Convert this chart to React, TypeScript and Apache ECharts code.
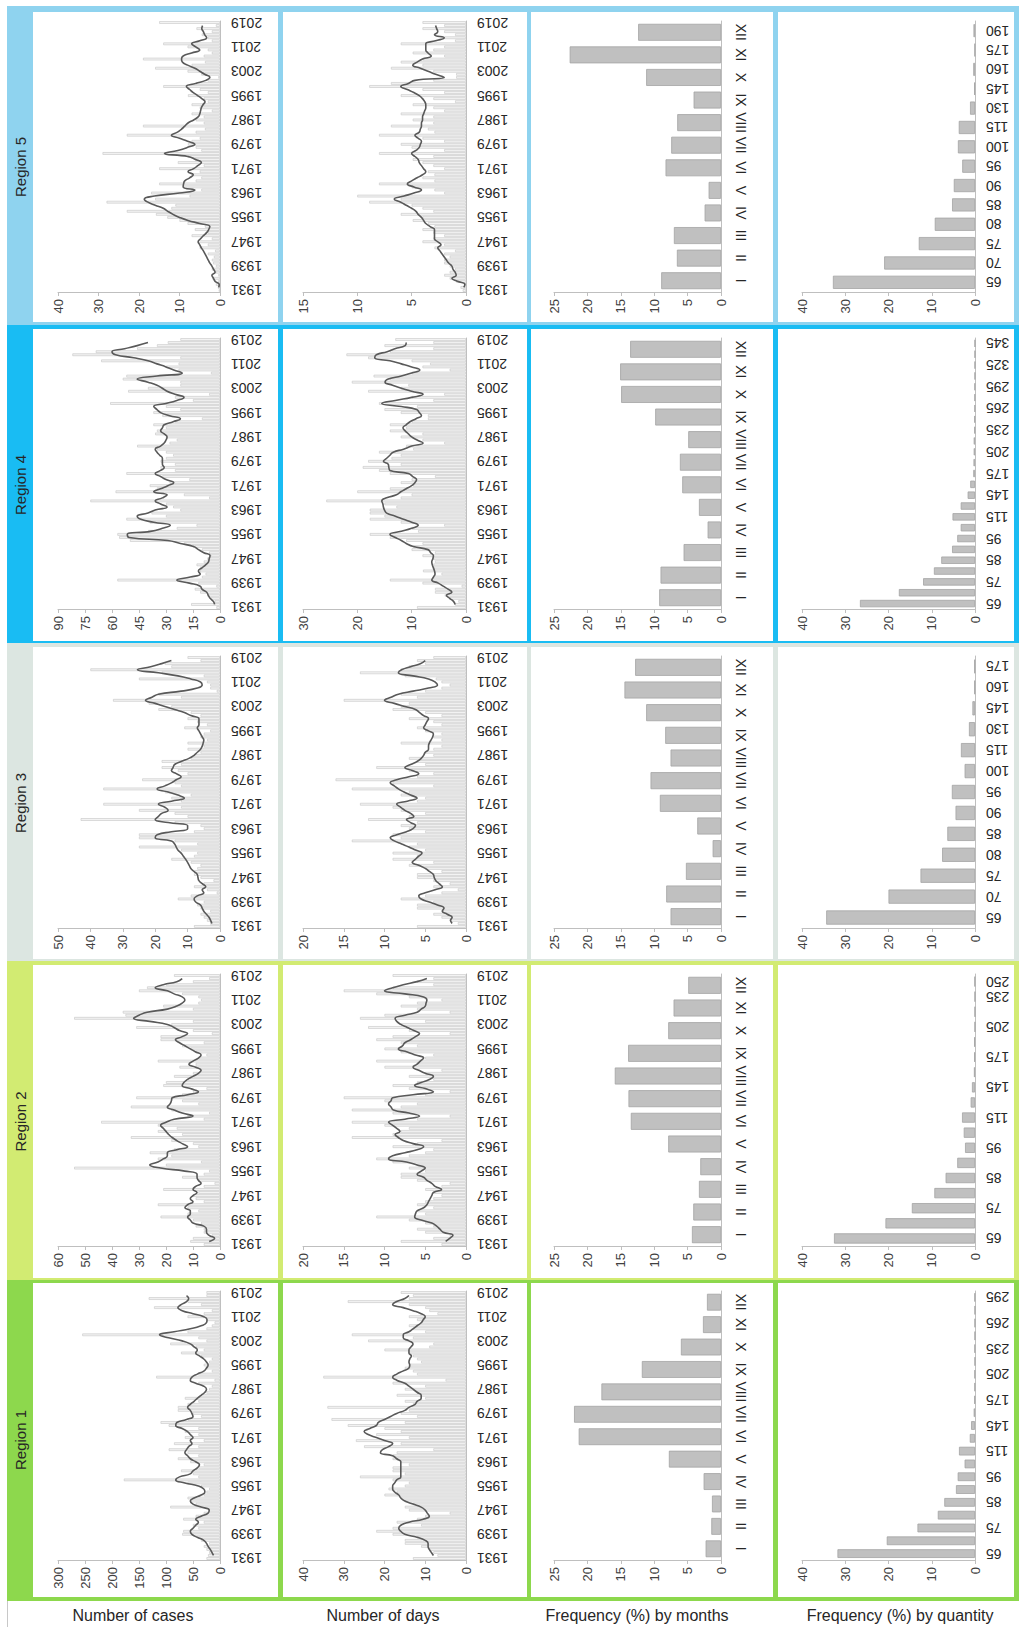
import React, { useEffect, useRef } from "react";
import * as echarts from "echarts";

const FONT = '"Liberation Sans", Arial, sans-serif';

// ---------- categories ----------
const years: string[] = [];
for (let y = 1931; y <= 2019; y++) years.push(String(y));
const months = ["I", "II", "III", "IV", "V", "VI", "VII", "VIII", "IX", "X", "XI", "XII"];

// ---------- Region 1 ----------
const casesR1 = [
  25, 22, 20, 25, 30, 20, 35, 40, 70, 68,
  40, 50, 30, 68, 45, 30, 20, 92, 45, 55,
  60, 30, 25, 20, 35, 60, 178, 40, 50, 72,
  40, 30, 55, 78, 40, 60, 95, 40, 85, 30,
  65, 40, 65, 40, 95, 110, 60, 35, 50, 78,
  78, 60, 40, 65, 35, 25, 20, 15, 40, 10,
  118, 40, 15, 25, 30, 20, 15, 35, 72, 30,
  45, 92, 25, 40, 255, 60, 25, 15, 10, 25,
  60, 30, 15, 122, 35, 60, 132, 25, 25,
];
const casesTrendR1 = [
  null,
  12, 15, 18, 22, 25, 30, 42, 52, 55,
  50, 45, 40, 45, 35, 22, 20, 35, 50, 55,
  48, 35, 28, 30, 40, 65, 82, 75, 55, 50,
  42, 38, 45, 55, 60, 65, 62, 58, 52, 55,
  50, 55, 60, 70, 82, 80, 62, 50, 52, 55,
  60, 55, 48, 42, 35, 28, 25, 30, 45, 55,
  52, 42, 30, 25, 22, 25, 30, 38, 45, 42,
  48, 55, 70, 95, 112, 85, 55, 35, 25, 24,
  30, 50, 70, 78, 72, 62, 58, 62,
  null,
];
const daysR1 = [
  13, 7, 8, 9, 11, 15, 15, 12, 18, 22,
  18, 11, 17, 12, 10, 4, 14, 15, 13, 15,
  16, 20, 17, 19, 15, 14, 18, 26, 15, 18,
  18, 14, 16, 18, 18, 17, 8, 25, 16, 27,
  14, 22, 16, 20, 29, 15, 33, 12, 16, 14,
  34, 13, 15, 10, 17, 12, 15, 10, 18, 5,
  35, 12, 13, 15, 14, 11, 12, 13, 14, 20,
  9, 8, 24, 13, 28, 10, 13, 14, 11, 12,
  14, 7, 9, 10, 14, 29, 14, 13, 16,
];
const daysTrendR1 = [
  null,
  8, 8.5, 9, 9.3, 9.3, 10, 12, 15, 16,
  16.5, 16, 14, 10.5, 9, 9.5, 10, 11, 13, 15,
  16, 16.5, 17.5, 18, 18, 17.5, 17, 16, 16, 16,
  16, 16, 16, 17, 18, 21, 20.5, 19, 18, 20,
  22, 24, 25, 23.6, 22, 21.5, 20, 18.5, 17, 15,
  14, 12.5, 12, 11, 11, 12, 13, 14, 15, 17,
  18, 17, 15.5, 14, 13.8, 14, 13.8, 13.4, 14, 14,
  13.5, 13, 14, 15.4, 15.4, 14, 13, 12, 11, 10.5,
  10, 11, 13, 15.4, 18, 17, 15, 14,
  null,
];
const monthsR1 = [2.3, 1.45, 1.35, 2.6, 7.8, 21.3, 22.0, 17.9, 11.85, 6.0, 2.7, 2.1];
const qtyBinsR1 = ["65", "70", "75", "80", "85", "90", "95", "100", "115", "130", "145", "160", "175", "190", "205", "220", "235", "250", "265", "280", "295"];
const qtyR1 = [31.8, 20.4, 13.3, 8.6, 7.1, 4.4, 4.0, 2.4, 3.7, 1.2, 0.9, 0.3, 0.15, 0.1, 0.1, 0.05, 0.1, 0.05, 0.05, 0.05, 0.1];

// ---------- Region 2 ----------
const casesR2 = [
  6, 11, 10, 3, 6, 6, 9, 7, 10, 22,
  12, 8, 12, 23, 6, 9, 10, 8, 21, 6,
  2, 8, 14, 6, 4, 54, 20, 7, 23, 18,
  26, 17, 8, 10, 18, 33, 14, 23, 16, 23,
  44, 6, 12, 4, 18, 33, 8, 14, 31, 14,
  10, 5, 21, 20, 12, 17, 10, 7, 15, 9,
  23, 8, 5, 9, 11, 14, 6, 22, 22, 3,
  10, 31, 18, 10, 54, 35, 36, 10, 21, 8,
  7, 8, 14, 30, 27, 20, 10, 4, 17,
];
const casesTrendR2 = [
  null,
  4, 2, 4, 5, 5, 6, 10, 11, 12,
  11, 11, 13, 12, 10, 11, 10, 8.5, 10, 9,
  7, 8, 8.5, 8.5, 13, 22, 26, 23, 21, 19.5,
  19.5, 16, 12, 14, 16, 17.7, 19, 20, 21, 22,
  20, 17, 10, 14, 17, 19.5, 18.5, 18, 17.7, 12,
  8, 11, 14, 13.4, 12, 10, 8, 7, 9, 11.5,
  10, 8, 7, 9, 11, 13, 15, 16.5, 14, 12,
  15, 17, 19.5, 26, 32, 30, 27, 19.5, 16, 14,
  13, 14, 17, 19.5, 24, 21, 16, 14,
  null,
];
const daysR2 = [
  3, 8, 4, 2, 5, 6, 4, 5, 7, 11,
  5, 6, 4, 6, 5, 4, 3, 4, 5, 3,
  2, 6, 8, 8, 5, 7, 6, 9, 11, 7,
  5, 4, 9, 6, 3, 14, 9, 8, 7, 10,
  14, 6, 2, 9, 14, 8, 6, 10, 15, 5,
  2, 7, 9, 6, 4, 7, 5, 3, 10, 6,
  11, 5, 4, 8, 10, 6, 8, 11, 9, 2,
  7, 12, 8, 5, 13, 10, 2, 6, 8, 6,
  3, 7, 11, 15, 9, 4, 6, 4, 9,
];
const daysTrendR2 = [
  null,
  2.5, 2, 1.6, 2.8, 3.2, 3.6, 4.2, 5.5, 6.3,
  6.2, 6, 5.2, 4.8, 4.6, 4.4, 4.2, 4, 3, 3.8,
  4.2, 4.8, 5.2, 6, 5.5, 5, 6, 7.3, 9.5, 9,
  7.5, 6, 5.2, 6.5, 7.7, 8.3, 8.7, 8.1, 8.5, 9,
  9.5, 7.5, 5.7, 7, 8.9, 9.2, 9.5, 9.2, 9, 6.5,
  4, 5, 6.3, 5.5, 4.5, 4, 5, 5.8, 6.5, 6,
  5.6, 5.2, 6.2, 7.2, 8.3, 7.8, 7.5, 6.8, 6.2, 5.7,
  6.4, 7.2, 8, 8.5, 8.7, 7.5, 6, 5.5, 5, 4.9,
  4.8, 5.2, 7.5, 10, 9, 7.7, 6, 4.8,
  null,
];
const monthsR2 = [4.35, 4.15, 3.3, 3.1, 7.9, 13.5, 13.85, 15.9, 13.9, 7.9, 7.1, 4.9];
const qtyBinsR2 = ["65", "70", "75", "80", "85", "90", "95", "100", "115", "130", "145", "160", "175", "190", "205", "220", "235", "250"];
const qtyR2 = [32.6, 20.7, 14.6, 9.4, 6.8, 4.1, 2.3, 2.6, 3.0, 1.0, 0.7, 0.25, 0.2, 0.2, 0.05, 0.05, 0.05, 0.1];

// ---------- Region 3 ----------
const casesR3 = [
  8, 3, 4, 5, 6, 3, 6, 7, 5, 13,
  9, 1, 4, 8, 5, 2, 6, 8, 8, 7,
  6, 9, 15, 8, 7, 12, 25, 7, 14, 25,
  25, 8, 5, 6, 14, 43, 10, 14, 25, 12,
  36, 12, 15, 9, 17, 36, 12, 14, 24, 12,
  10, 13, 18, 12, 18, 9, 8, 6, 10, 5,
  10, 4, 6, 5, 3, 11, 4, 7, 10, 6,
  9, 19, 15, 22, 33, 12, 19, 1, 3, 3,
  4, 25, 5, 18, 40, 15, 17, 6, 10,
];
const casesTrendR3 = [
  null,
  2.5, 2.9, 3.4, 4.2, 5, 5.5, 6, 7.5, 8,
  7, 5, 5.5, 4.4, 5.5, 6.5, 6.8, 7, 8, 9,
  9.5, 10, 10.6, 11.3, 12, 13, 13.5, 14, 15, 20,
  19.4, 15, 10, 10, 16, 20, 19, 18, 16, 17,
  19, 15, 11, 13, 16, 19.4, 17, 15, 13.5, 12,
  13.5, 15, 14.5, 14, 12, 9.6, 8, 7, 6, 5.5,
  5.2, 5, 5.5, 6, 6.5, 7, 6.5, 6.5, 6.5, 9,
  11, 14, 17, 20, 23, 21, 19, 12, 7, 5.5,
  6, 9, 13, 19, 25.5, 21.4, 18, 15,
  null,
];
const daysR3 = [
  6, 1, 2, 3, 4, 3, 6, 6, 4, 8,
  5, 3, 1, 4, 2, 4, 6, 6, 3, 5,
  7, 4, 9, 6, 9, 5, 7, 6, 14, 8,
  9, 5, 7, 8, 6, 12, 7, 5, 8, 9,
  13, 6, 5, 8, 7, 14, 4, 9, 16, 6,
  4, 7, 11, 5, 6, 7, 4, 5, 4, 3,
  8, 3, 4, 3, 5, 6, 3, 4, 7, 3,
  5, 9, 8, 7, 15, 6, 8, 5, 3, 2,
  3, 3.7, 7.5, 13, 8, 7, 5, 6, 4,
];
const daysTrendR3 = [
  null,
  1.7, 1.9, 1.7, 2.3, 2.9, 2.7, 3.5, 4.5, 5.5,
  5.8, 5, 3.8, 2.9, 3.3, 3.7, 3.9, 4, 4.5, 5,
  5.8, 6.6, 6.2, 5.8, 5.4, 6.2, 7, 7.9, 8.8, 9.3,
  8.5, 7.3, 6.5, 6.2, 6.8, 7.3, 6.4, 6.8, 7.5, 8,
  8.5, 7.2, 6, 6.8, 7.6, 8.3, 8.8, 9.3, 8.5, 7,
  5.8, 6.6, 7.5, 6.8, 6, 5.5, 5.2, 5, 4.6, 4.6,
  4.5, 4.3, 4.1, 4, 4.6, 5.2, 5, 4.8, 4.6, 5.2,
  5.7, 6.2, 7.5, 8.8, 10, 9.2, 8.3, 6.5, 4.6, 3.5,
  3.8, 4.6, 6.5, 8.3, 7.9, 6.8, 5.6, 5,
  null,
];
const monthsR3 = [7.55, 8.2, 5.25, 1.25, 3.55, 9.15, 10.55, 7.55, 8.35, 11.2, 14.45, 12.85];
const qtyBinsR3 = ["65", "70", "75", "80", "85", "90", "95", "100", "115", "130", "145", "160", "175"];
const qtyR3 = [34.4, 20.0, 12.6, 7.6, 6.4, 4.5, 5.35, 2.4, 3.25, 1.4, 0.6, 0.15, 0.15];

// ---------- Region 4 ----------
const casesR4 = [
  2, 16, 3, 5, 7, 11, 14, 2, 12, 57,
  10, 8, 11, 11, 13, 9, 7, 5, 6, 10,
  15, 20, 50, 56, 57, 40, 24, 13, 39, 52,
  30, 38, 22, 26, 30, 72, 6, 20, 58, 35,
  39, 28, 17, 32, 52, 25, 33, 25, 33, 30,
  26, 30, 35, 46, 28, 24, 30, 36, 35, 30,
  37, 25, 10, 32, 37, 22, 30, 61, 15, 25,
  6, 51, 40, 22, 22, 54, 52, 5, 23, 30,
  23, 66, 22, 82, 69, 46, 35, 29, 22,
];
const casesTrendR4 = [
  null,
  3, 3.7, 5.5, 6.5, 7.4, 10, 11, 17, 24,
  16.5, 11, 12, 10, 8, 6.4, 6, 5.5, 9, 12,
  14.7, 22, 29, 50.5, 51.5, 38.6, 32, 27.6, 36.8, 44,
  46, 40, 36, 29.4, 33, 36, 32, 29.4, 36.8, 33,
  29, 25.7, 30, 33, 36, 33, 31, 32, 32, 32,
  33.5, 35, 36, 33, 31, 30, 29.4, 31, 33, 32,
  31, 26, 22, 28, 33, 35, 36.8, 30, 24, 20,
  25, 29.4, 32, 35, 40, 46, 35, 21, 25.7, 30,
  35, 40, 48, 58, 60, 53, 46, 40,
  null,
];
const daysR4 = [
  9, 2, 1.4, 3, 3.9, 5.7, 5.7, 0.8, 8, 14,
  6, 4.5, 7.9, 6, 6, 5.7, 6, 8, 5.7, 10,
  9.7, 8, 11, 14, 17.7, 8.8, 10, 4, 12, 17.7,
  15, 17.7, 17.7, 12.8, 15, 25.7, 12, 10, 20, 14,
  9.7, 12, 10, 5.7, 14, 16, 19, 12, 18, 13.7,
  12, 16, 9.7, 11, 4, 8, 12, 8, 14, 11,
  14, 10, 7, 7, 12, 15, 9, 16, 6, 10,
  4, 18, 12, 10.6, 21, 14, 17, 10, 3, 8,
  6.6, 10, 18, 22, 14, 6, 15, 6, 13,
];
const daysTrendR4 = [
  null,
  2, 2.3, 3, 3.6, 2.6, 3.3, 4.2, 5.1, 6.3,
  6, 5.7, 5.8, 6, 6.2, 6.3, 6.1, 6, 6.5, 7,
  9.7, 11, 11.9, 13, 14, 11.9, 10, 8.8, 10, 11.5,
  13, 14.6, 15, 15.2, 15.3, 15.5, 14.6, 12.8, 12, 11,
  10, 9.4, 9.1, 9.8, 10.6, 14, 14.2, 14.3, 15.2, 14.6,
  14, 13.4, 11.5, 10, 7.9, 9, 10, 10.6, 11.2, 11.6,
  11, 10.3, 9.2, 8.2, 8.6, 9.1, 11.9, 15.5, 13, 10,
  7.9, 10, 11.9, 13.5, 14.9, 14.3, 11.9, 10, 8.5, 10,
  11.9, 14, 16.8, 16.5, 14.5, 13.1, 11.2, 11,
  null,
];
const monthsR4 = [9.25, 9.05, 5.6, 2.0, 3.3, 5.8, 6.15, 4.9, 9.85, 14.95, 15.1, 13.6];
const qtyBinsR4 = ["65", "70", "75", "80", "85", "90", "95", "100", "115", "130", "145", "160", "175", "190", "205", "220", "235", "250", "265", "280", "295", "310", "325", "335", "345"];
const qtyR4 = [26.6, 17.6, 12.0, 9.5, 7.8, 5.3, 4.1, 3.3, 5.2, 3.3, 1.7, 1.1, 0.4, 0.35, 0.3, 0.3, 0.15, 0.15, 0.1, 0.1, 0.1, 0.05, 0.05, 0.05, 0.05];

// ---------- Region 5 ----------
const casesR5 = [
  0.3, 0.5, 1, 0.4, 1.9, 0.4, 1, 2, 1, 1.7,
  2, 1.5, 3, 1.2, 5, 3, 5.4, 2, 7, 3,
  6.2, 3.7, 8, 10, 13, 15.8, 23, 12, 11, 28,
  16, 7.5, 17, 4.6, 9, 15, 6, 4.6, 7, 5,
  15, 4, 10.4, 6.2, 8, 29, 4.6, 6, 7.9, 7,
  5, 23, 6, 3.7, 19, 4, 6, 4, 7, 2,
  5, 7, 3, 4, 7.9, 3, 5, 14, 6, 3,
  0.4, 4.6, 8, 16, 7, 3.7, 19, 4, 2, 3,
  8, 14, 2, 3, 4.5, 2, 5.8, 1, 15,
];
const casesTrendR5 = [
  null,
  0.3, 0.2, 1.2, 1.6, 2, 1.2, 1.6, 2, 2.5,
  2.9, 3.3, 3.7, 4.1, 4.6, 5, 5.4, 4.8, 4.1, 3.3,
  2.8, 2.5, 5, 7.9, 10, 11.6, 12.9, 14, 16, 17.8,
  18.7, 16.2, 10, 6.2, 9.1, 9, 8.7, 7.5, 6.6, 7.9,
  6.5, 5.5, 4.6, 6, 7.9, 13.7, 10.4, 8, 6.2, 8,
  10, 12, 10.5, 9.5, 8.7, 7.9, 6.5, 5.4, 5, 4.8,
  4.6, 4.2, 3.7, 4.5, 5.5, 6.6, 7.5, 8.3, 6, 3.5,
  2.5, 3.8, 5, 6.2, 8, 9.3, 9.5, 9.1, 7, 5,
  6, 7, 5, 3.3, 3.8, 4.1, 4.5, 4.3,
  null,
];
const daysR5 = [
  0.3, 0.5, 0.1, 0.9, 1.5, 2, 1.5, 1, 1.5, 2,
  2, 1.5, 2, 1, 2.9, 2, 4, 3, 2, 3,
  4, 2.9, 3.5, 4.9, 4, 6, 3, 4, 5, 8.9,
  6, 10, 2, 2.9, 5, 8, 2.9, 4, 2.9, 3.5,
  2, 3, 4, 4.9, 3, 8, 2, 5, 6, 2,
  4, 8, 2.9, 3.5, 6.9, 3, 4.9, 3, 6, 2,
  3, 4.9, 1, 3, 6, 2, 4, 8.9, 6.9, 3,
  0.9, 0.9, 3, 6.9, 4, 6, 4, 2, 4.9, 3,
  2, 6, 1, 2, 1, 2, 4, 2, 4,
];
const daysTrendR5 = [
  null,
  0.2, 0.1, 0.8, 1.3, 0.9, 1, 1.2, 1.3, 1.6,
  1.8, 2, 2.2, 2.4, 2.6, 2.3, 2.6, 2.9, 2.9, 2.9,
  2.9, 3.3, 3.7, 3.9, 4.1, 4.4, 4.6, 5, 5.5, 6,
  6.6, 5.7, 4.8, 4.1, 4.8, 5.4, 5, 4.5, 4, 3.7,
  3.9, 4.1, 4.3, 4.4, 4.7, 5, 4.6, 4.3, 4.2, 4.1,
  4.4, 4.7, 4.3, 4.2, 4.1, 4.1, 4, 4, 3.9, 3.8,
  3.7, 3.7, 3.8, 4, 4.3, 4.8, 5.4, 6, 5.3, 4.7,
  2, 2.8, 3.5, 4.2, 4.9, 4.5, 4, 3.2, 3.5, 3.7,
  3.7, 3.7, 2.8, 2, 2.9, 2.6, 2.7, 2.8,
  null,
];
const monthsR5 = [8.95, 6.6, 7.05, 2.45, 1.85, 8.3, 7.45, 6.55, 4.1, 11.2, 22.65, 12.4];
const qtyBinsR5 = ["65", "70", "75", "80", "85", "90", "95", "100", "115", "130", "145", "160", "175", "190"];
const qtyR5 = [32.85, 21.0, 13.0, 9.3, 5.3, 4.9, 2.95, 3.95, 3.75, 1.15, 0.2, 0.4, 0.1, 0.35];

// ---------- texts ----------
const regionNames = ["Region 1", "Region 2", "Region 3", "Region 4", "Region 5"];
const columnTitles = ["Number of cases", "Number of days", "Frequency (%) by months", "Frequency (%) by quantity"];

// value-axis ranges: [max, interval]
const casesScale = [[300, 50], [60, 10], [50, 10], [90, 15], [40, 10]];
const daysScale = [[40, 10], [20, 5], [20, 5], [30, 10], [15, 5]];

// ---------- layout (pixels) ----------
const REGION_COLORS = ["#8dd84d", "#d2eb72", "#dce6e1", "#19bcf3", "#8fd3ef"];
const BANDS = [
  { frameTop: 1280, frameBottom: 1601, panelTop: 1283, panelBottom: 1597, plotTop: 1291, axisY: 1560 },
  { frameTop: 961, frameBottom: 1280, panelTop: 965, panelBottom: 1278, plotTop: 974, axisY: 1246 },
  { frameTop: 643, frameBottom: 961, panelTop: 647, panelBottom: 959, plotTop: 656, axisY: 928 },
  { frameTop: 325, frameBottom: 643, panelTop: 329, panelBottom: 641, plotTop: 338, axisY: 609 },
  { frameTop: 6, frameBottom: 325, panelTop: 12, panelBottom: 322, plotTop: 21, axisY: 292 },
];
const PANELS = [[33, 278], [283, 527], [531, 773], [778, 1014]];
const PLOTS = [[58, 220], [303, 466], [554, 721], [802, 975]];
const TITLE_X = [133, 383, 637, 900];

function buildOption() {
  const regions = [
    { cases: casesR1, casesTrend: casesTrendR1, days: daysR1, daysTrend: daysTrendR1, months: monthsR1, bins: qtyBinsR1, qty: qtyR1, qtyInterval: 1 as any },
    { cases: casesR2, casesTrend: casesTrendR2, days: daysR2, daysTrend: daysTrendR2, months: monthsR2, bins: qtyBinsR2, qty: qtyR2, qtyInterval: ((i: number) => i % 2 === 0 || i === qtyBinsR2.length - 1) as any },
    { cases: casesR3, casesTrend: casesTrendR3, days: daysR3, daysTrend: daysTrendR3, months: monthsR3, bins: qtyBinsR3, qty: qtyR3, qtyInterval: 0 as any },
    { cases: casesR4, casesTrend: casesTrendR4, days: daysR4, daysTrend: daysTrendR4, months: monthsR4, bins: qtyBinsR4, qty: qtyR4, qtyInterval: 1 as any },
    { cases: casesR5, casesTrend: casesTrendR5, days: daysR5, daysTrend: daysTrendR5, months: monthsR5, bins: qtyBinsR5, qty: qtyR5, qtyInterval: 0 as any },
  ];

  const grid: any[] = [];
  const xAxis: any[] = [];
  const yAxis: any[] = [];
  const series: any[] = [];
  const graphic: any[] = [];

  regions.forEach((r, ri) => {
    const b = BANDS[ri];
    graphic.push({
      type: "rect", z: -10, silent: true,
      shape: { x: 7, y: b.frameTop, width: 1012, height: b.frameBottom - b.frameTop },
      style: { fill: REGION_COLORS[ri] },
    });
    PANELS.forEach(([x0, x1]) => {
      graphic.push({
        type: "rect", z: -9, silent: true,
        shape: { x: x0, y: b.panelTop, width: x1 - x0, height: b.panelBottom - b.panelTop },
        style: { fill: "#ffffff" },
      });
    });
    graphic.push({
      type: "text", z: 5, silent: true,
      x: 20, y: (b.panelTop + b.panelBottom) / 2, rotation: Math.PI / 2,
      style: {
        text: regionNames[ri], fill: "#262626", font: `15px ${FONT}`,
        textAlign: "center", textVerticalAlign: "middle", align: "center", verticalAlign: "middle",
      },
    });

    const defs = [
      { cats: years, max: casesScale[ri][0], step: casesScale[ri][1], bars: r.cases, trend: r.casesTrend, kind: "year", interval: 7 },
      { cats: years, max: daysScale[ri][0], step: daysScale[ri][1], bars: r.days, trend: r.daysTrend, kind: "year", interval: 7 },
      { cats: months, max: 25, step: 5, bars: r.months, trend: null, kind: "month", interval: 0 },
      { cats: r.bins, max: 40, step: 10, bars: r.qty, trend: null, kind: "qty", interval: r.qtyInterval },
    ];

    defs.forEach((d: any, ci) => {
      const idx = grid.length;
      const [x0, x1] = PLOTS[ci];
      grid.push({ left: x0, top: b.plotTop, width: x1 - x0, height: b.axisY - b.plotTop });
      xAxis.push({
        gridIndex: idx, type: "value", inverse: true, min: 0, max: d.max, interval: d.step, position: "bottom",
        axisLine: { show: true, lineStyle: { color: "#bfbfbf", width: 1 } },
        axisTick: { show: true, length: 4, lineStyle: { color: "#bfbfbf" } },
        splitLine: { show: false },
        axisLabel: { rotate: 90, fontSize: 13, color: "#404040", margin: 7, fontFamily: FONT },
      });
      yAxis.push({
        gridIndex: idx, type: "category", data: d.cats, position: "right",
        axisLine: { show: true, onZero: false, lineStyle: { color: "#bfbfbf", width: 1 } },
        axisTick: { show: false },
        splitLine: { show: false },
        axisLabel: {
          interval: d.interval, rotate: d.kind === "month" ? -90 : 180,
          fontSize: 14, color: "#262626", margin: d.kind === "month" ? 13 : 11, fontFamily: FONT,
        },
      });
      if (d.kind === "year") {
        series.push({
          type: "bar", xAxisIndex: idx, yAxisIndex: idx, data: d.bars, silent: true,
          barCategoryGap: "15%",
          itemStyle: { color: "#f3f3f3", borderColor: "#c4c4c4", borderWidth: 0.6 },
        });
        series.push({
          type: "line", xAxisIndex: idx, yAxisIndex: idx, data: d.trend, silent: true,
          smooth: true, symbol: "none", showSymbol: false, z: 4,
          lineStyle: { color: "#595959", width: 1.6 },
        });
      } else {
        series.push({
          type: "bar", xAxisIndex: idx, yAxisIndex: idx, data: d.bars, silent: true,
          barCategoryGap: d.kind === "month" ? "25%" : "32%",
          itemStyle: { color: "#c0c0c0", borderColor: "#a3a3a3", borderWidth: 0.8 },
        });
      }
    });
  });

  columnTitles.forEach((t, i) => {
    graphic.push({
      type: "text", z: 5, silent: true, x: TITLE_X[i], y: 1615,
      style: {
        text: t, fill: "#262626", font: `16px ${FONT}`,
        textAlign: "center", textVerticalAlign: "middle", align: "center", verticalAlign: "middle",
      },
    });
  });
  graphic.push({
    type: "line", silent: true, z: 5,
    shape: { x1: 7.5, y1: 1601, x2: 7.5, y2: 1627 },
    style: { stroke: "#c8c8c8", lineWidth: 1 },
  });

  return { animation: false, backgroundColor: "#ffffff", grid, xAxis, yAxis, series, graphic };
}

export default function App() {
  const ref = useRef<HTMLDivElement>(null);
  useEffect(() => {
    if (!ref.current) return;
    const chart = echarts.init(ref.current, null, { renderer: "svg" });
    chart.setOption(buildOption() as any);
    return () => chart.dispose();
  }, []);
  return (
    <div
      ref={ref}
      style={{ position: "absolute", left: 0, top: 0, width: 1019, height: 1627 }}
    />
  );
}
